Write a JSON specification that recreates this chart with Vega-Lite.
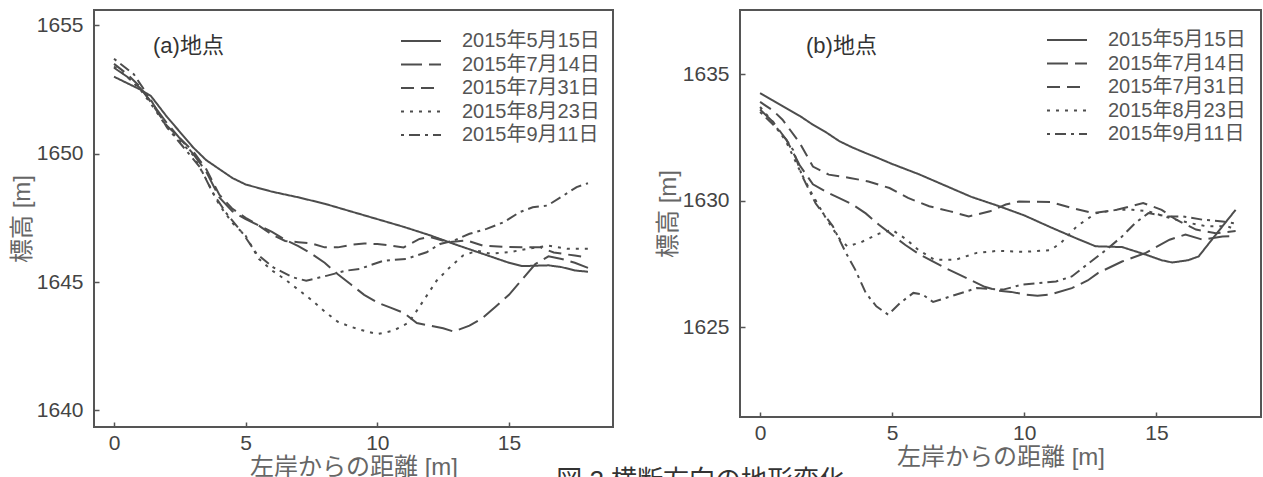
{
  "$schema": "https://vega.github.io/schema/vega-lite/v6.json",
  "padding": {"left": 9, "top": 9, "right": 0, "bottom": 0},
  "background": "white",
  "title": {"text": "図 2 横断方向の地形変化", "orient": "bottom", "anchor": "middle", "offset": -12, "dx": 65, "baseline": "top", "fontSize": 26, "fontWeight": "normal", "color": "#333"},
  "datasets": {
    "a": [
      {"date": "2015年5月15日", "d": 0, "h": 1653.0}, {"date": "2015年5月15日", "d": 0.5, "h": 1652.75}, {"date": "2015年5月15日", "d": 1, "h": 1652.5}, {"date": "2015年5月15日", "d": 1.4, "h": 1652.25}, {"date": "2015年5月15日", "d": 2, "h": 1651.45}, {"date": "2015年5月15日", "d": 2.5, "h": 1650.85}, {"date": "2015年5月15日", "d": 3, "h": 1650.25}, {"date": "2015年5月15日", "d": 3.5, "h": 1649.75}, {"date": "2015年5月15日", "d": 4, "h": 1649.4}, {"date": "2015年5月15日", "d": 4.5, "h": 1649.05}, {"date": "2015年5月15日", "d": 5, "h": 1648.8}, {"date": "2015年5月15日", "d": 6, "h": 1648.52}, {"date": "2015年5月15日", "d": 7, "h": 1648.3}, {"date": "2015年5月15日", "d": 8, "h": 1648.05}, {"date": "2015年5月15日", "d": 9, "h": 1647.75}, {"date": "2015年5月15日", "d": 10, "h": 1647.45}, {"date": "2015年5月15日", "d": 11, "h": 1647.15}, {"date": "2015年5月15日", "d": 12, "h": 1646.82}, {"date": "2015年5月15日", "d": 13, "h": 1646.45}, {"date": "2015年5月15日", "d": 14, "h": 1646.1}, {"date": "2015年5月15日", "d": 15, "h": 1645.75}, {"date": "2015年5月15日", "d": 15.5, "h": 1645.62}, {"date": "2015年5月15日", "d": 16.5, "h": 1645.65}, {"date": "2015年5月15日", "d": 17, "h": 1645.58}, {"date": "2015年5月15日", "d": 17.5, "h": 1645.45}, {"date": "2015年5月15日", "d": 18, "h": 1645.4},
      {"date": "2015年7月14日", "d": 0, "h": 1653.35}, {"date": "2015年7月14日", "d": 0.5, "h": 1653.0}, {"date": "2015年7月14日", "d": 1, "h": 1652.55}, {"date": "2015年7月14日", "d": 1.5, "h": 1651.9}, {"date": "2015年7月14日", "d": 2, "h": 1651.2}, {"date": "2015年7月14日", "d": 2.5, "h": 1650.6}, {"date": "2015年7月14日", "d": 3, "h": 1650.0}, {"date": "2015年7月14日", "d": 3.5, "h": 1649.3}, {"date": "2015年7月14日", "d": 4, "h": 1648.3}, {"date": "2015年7月14日", "d": 4.5, "h": 1647.75}, {"date": "2015年7月14日", "d": 5, "h": 1647.45}, {"date": "2015年7月14日", "d": 5.5, "h": 1647.2}, {"date": "2015年7月14日", "d": 6, "h": 1646.95}, {"date": "2015年7月14日", "d": 6.5, "h": 1646.65}, {"date": "2015年7月14日", "d": 7, "h": 1646.4}, {"date": "2015年7月14日", "d": 7.5, "h": 1646.1}, {"date": "2015年7月14日", "d": 8, "h": 1645.75}, {"date": "2015年7月14日", "d": 8.5, "h": 1645.3}, {"date": "2015年7月14日", "d": 9, "h": 1644.9}, {"date": "2015年7月14日", "d": 9.5, "h": 1644.5}, {"date": "2015年7月14日", "d": 10, "h": 1644.2}, {"date": "2015年7月14日", "d": 10.5, "h": 1644.0}, {"date": "2015年7月14日", "d": 11, "h": 1643.8}, {"date": "2015年7月14日", "d": 11.5, "h": 1643.4}, {"date": "2015年7月14日", "d": 12, "h": 1643.3}, {"date": "2015年7月14日", "d": 12.5, "h": 1643.2}, {"date": "2015年7月14日", "d": 12.9, "h": 1643.07}, {"date": "2015年7月14日", "d": 13.5, "h": 1643.3}, {"date": "2015年7月14日", "d": 14, "h": 1643.6}, {"date": "2015年7月14日", "d": 14.5, "h": 1644.05}, {"date": "2015年7月14日", "d": 15, "h": 1644.5}, {"date": "2015年7月14日", "d": 15.5, "h": 1645.1}, {"date": "2015年7月14日", "d": 16, "h": 1645.7}, {"date": "2015年7月14日", "d": 16.5, "h": 1646.0}, {"date": "2015年7月14日", "d": 17, "h": 1645.9}, {"date": "2015年7月14日", "d": 17.5, "h": 1645.75}, {"date": "2015年7月14日", "d": 18, "h": 1645.55},
      {"date": "2015年7月31日", "d": 0, "h": 1653.5}, {"date": "2015年7月31日", "d": 0.5, "h": 1653.1}, {"date": "2015年7月31日", "d": 1, "h": 1652.6}, {"date": "2015年7月31日", "d": 1.5, "h": 1651.85}, {"date": "2015年7月31日", "d": 2, "h": 1651.1}, {"date": "2015年7月31日", "d": 2.5, "h": 1650.6}, {"date": "2015年7月31日", "d": 3, "h": 1650.1}, {"date": "2015年7月31日", "d": 3.5, "h": 1649.4}, {"date": "2015年7月31日", "d": 4, "h": 1648.4}, {"date": "2015年7月31日", "d": 4.5, "h": 1647.85}, {"date": "2015年7月31日", "d": 5, "h": 1647.5}, {"date": "2015年7月31日", "d": 5.5, "h": 1647.2}, {"date": "2015年7月31日", "d": 6, "h": 1646.85}, {"date": "2015年7月31日", "d": 6.5, "h": 1646.6}, {"date": "2015年7月31日", "d": 7, "h": 1646.55}, {"date": "2015年7月31日", "d": 7.5, "h": 1646.5}, {"date": "2015年7月31日", "d": 8, "h": 1646.35}, {"date": "2015年7月31日", "d": 8.5, "h": 1646.35}, {"date": "2015年7月31日", "d": 9, "h": 1646.45}, {"date": "2015年7月31日", "d": 9.5, "h": 1646.5}, {"date": "2015年7月31日", "d": 10, "h": 1646.48}, {"date": "2015年7月31日", "d": 10.5, "h": 1646.42}, {"date": "2015年7月31日", "d": 11, "h": 1646.35}, {"date": "2015年7月31日", "d": 11.6, "h": 1646.68}, {"date": "2015年7月31日", "d": 12, "h": 1646.75}, {"date": "2015年7月31日", "d": 12.7, "h": 1646.55}, {"date": "2015年7月31日", "d": 13.4, "h": 1646.62}, {"date": "2015年7月31日", "d": 14, "h": 1646.42}, {"date": "2015年7月31日", "d": 15, "h": 1646.36}, {"date": "2015年7月31日", "d": 16.2, "h": 1646.35}, {"date": "2015年7月31日", "d": 16.7, "h": 1646.15}, {"date": "2015年7月31日", "d": 17.5, "h": 1646.03}, {"date": "2015年7月31日", "d": 18, "h": 1645.96},
      {"date": "2015年8月23日", "d": 0, "h": 1653.4}, {"date": "2015年8月23日", "d": 0.5, "h": 1653.0}, {"date": "2015年8月23日", "d": 1, "h": 1652.5}, {"date": "2015年8月23日", "d": 1.5, "h": 1651.8}, {"date": "2015年8月23日", "d": 2, "h": 1651.05}, {"date": "2015年8月23日", "d": 2.5, "h": 1650.5}, {"date": "2015年8月23日", "d": 3, "h": 1649.95}, {"date": "2015年8月23日", "d": 3.5, "h": 1649.0}, {"date": "2015年8月23日", "d": 4, "h": 1648.0}, {"date": "2015年8月23日", "d": 4.5, "h": 1647.3}, {"date": "2015年8月23日", "d": 5, "h": 1646.8}, {"date": "2015年8月23日", "d": 5.5, "h": 1645.9}, {"date": "2015年8月23日", "d": 6, "h": 1645.45}, {"date": "2015年8月23日", "d": 6.5, "h": 1645.1}, {"date": "2015年8月23日", "d": 7, "h": 1644.7}, {"date": "2015年8月23日", "d": 7.5, "h": 1644.3}, {"date": "2015年8月23日", "d": 8, "h": 1643.85}, {"date": "2015年8月23日", "d": 8.5, "h": 1643.45}, {"date": "2015年8月23日", "d": 9, "h": 1643.25}, {"date": "2015年8月23日", "d": 9.5, "h": 1643.1}, {"date": "2015年8月23日", "d": 10, "h": 1642.97}, {"date": "2015年8月23日", "d": 10.6, "h": 1643.1}, {"date": "2015年8月23日", "d": 11.2, "h": 1643.42}, {"date": "2015年8月23日", "d": 11.75, "h": 1644.27}, {"date": "2015年8月23日", "d": 12.25, "h": 1645.05}, {"date": "2015年8月23日", "d": 12.75, "h": 1645.57}, {"date": "2015年8月23日", "d": 13.25, "h": 1646.03}, {"date": "2015年8月23日", "d": 13.8, "h": 1646.22}, {"date": "2015年8月23日", "d": 14.3, "h": 1646.1}, {"date": "2015年8月23日", "d": 15, "h": 1646.16}, {"date": "2015年8月23日", "d": 15.7, "h": 1646.29}, {"date": "2015年8月23日", "d": 16.5, "h": 1646.42}, {"date": "2015年8月23日", "d": 17.2, "h": 1646.3}, {"date": "2015年8月23日", "d": 18, "h": 1646.3},
      {"date": "2015年9月11日", "d": 0, "h": 1653.7}, {"date": "2015年9月11日", "d": 0.75, "h": 1653.1}, {"date": "2015年9月11日", "d": 1.4, "h": 1652.1}, {"date": "2015年9月11日", "d": 2, "h": 1651.04}, {"date": "2015年9月11日", "d": 2.6, "h": 1650.3}, {"date": "2015年9月11日", "d": 3.26, "h": 1649.48}, {"date": "2015年9月11日", "d": 3.77, "h": 1648.44}, {"date": "2015年9月11日", "d": 4.28, "h": 1647.66}, {"date": "2015年9月11日", "d": 4.9, "h": 1646.88}, {"date": "2015年9月11日", "d": 5.42, "h": 1646.1}, {"date": "2015年9月11日", "d": 6.05, "h": 1645.57}, {"date": "2015年9月11日", "d": 6.8, "h": 1645.18}, {"date": "2015年9月11日", "d": 7.3, "h": 1645.05}, {"date": "2015年9月11日", "d": 8.1, "h": 1645.25}, {"date": "2015年9月11日", "d": 8.8, "h": 1645.44}, {"date": "2015年9月11日", "d": 9.33, "h": 1645.51}, {"date": "2015年9月11日", "d": 10.23, "h": 1645.83}, {"date": "2015年9月11日", "d": 11.1, "h": 1645.9}, {"date": "2015年9月11日", "d": 11.87, "h": 1646.16}, {"date": "2015年9月11日", "d": 12.38, "h": 1646.48}, {"date": "2015年9月11日", "d": 12.9, "h": 1646.61}, {"date": "2015年9月11日", "d": 13.5, "h": 1646.88}, {"date": "2015年9月11日", "d": 14.15, "h": 1647.07}, {"date": "2015年9月11日", "d": 14.8, "h": 1647.33}, {"date": "2015年9月11日", "d": 15.4, "h": 1647.72}, {"date": "2015年9月11日", "d": 15.9, "h": 1647.91}, {"date": "2015年9月11日", "d": 16.46, "h": 1647.98}, {"date": "2015年9月11日", "d": 16.96, "h": 1648.3}, {"date": "2015年9月11日", "d": 17.57, "h": 1648.7}, {"date": "2015年9月11日", "d": 18, "h": 1648.85}
    ],
    "b": [
      {"date": "2015年5月15日", "d": 0, "h": 1634.25}, {"date": "2015年5月15日", "d": 0.5, "h": 1633.95}, {"date": "2015年5月15日", "d": 1, "h": 1633.65}, {"date": "2015年5月15日", "d": 1.5, "h": 1633.35}, {"date": "2015年5月15日", "d": 2, "h": 1633.0}, {"date": "2015年5月15日", "d": 2.5, "h": 1632.7}, {"date": "2015年5月15日", "d": 3, "h": 1632.35}, {"date": "2015年5月15日", "d": 3.5, "h": 1632.1}, {"date": "2015年5月15日", "d": 4, "h": 1631.88}, {"date": "2015年5月15日", "d": 4.5, "h": 1631.67}, {"date": "2015年5月15日", "d": 5, "h": 1631.45}, {"date": "2015年5月15日", "d": 6, "h": 1631.05}, {"date": "2015年5月15日", "d": 7, "h": 1630.6}, {"date": "2015年5月15日", "d": 8, "h": 1630.15}, {"date": "2015年5月15日", "d": 9, "h": 1629.8}, {"date": "2015年5月15日", "d": 10, "h": 1629.42}, {"date": "2015年5月15日", "d": 11, "h": 1628.95}, {"date": "2015年5月15日", "d": 12, "h": 1628.5}, {"date": "2015年5月15日", "d": 12.7, "h": 1628.2}, {"date": "2015年5月15日", "d": 13.7, "h": 1628.17}, {"date": "2015年5月15日", "d": 14.6, "h": 1627.87}, {"date": "2015年5月15日", "d": 15.2, "h": 1627.65}, {"date": "2015年5月15日", "d": 15.6, "h": 1627.56}, {"date": "2015年5月15日", "d": 16.2, "h": 1627.65}, {"date": "2015年5月15日", "d": 16.6, "h": 1627.8}, {"date": "2015年5月15日", "d": 17, "h": 1628.33}, {"date": "2015年5月15日", "d": 17.5, "h": 1628.99}, {"date": "2015年5月15日", "d": 18, "h": 1629.64},
      {"date": "2015年7月14日", "d": 0, "h": 1633.6}, {"date": "2015年7月14日", "d": 0.5, "h": 1633.1}, {"date": "2015年7月14日", "d": 1, "h": 1632.4}, {"date": "2015年7月14日", "d": 1.5, "h": 1631.4}, {"date": "2015年7月14日", "d": 2, "h": 1630.65}, {"date": "2015年7月14日", "d": 2.5, "h": 1630.35}, {"date": "2015年7月14日", "d": 3, "h": 1630.1}, {"date": "2015年7月14日", "d": 3.5, "h": 1629.85}, {"date": "2015年7月14日", "d": 4, "h": 1629.5}, {"date": "2015年7月14日", "d": 4.5, "h": 1629.05}, {"date": "2015年7月14日", "d": 5, "h": 1628.65}, {"date": "2015年7月14日", "d": 5.5, "h": 1628.25}, {"date": "2015年7月14日", "d": 6, "h": 1627.9}, {"date": "2015年7月14日", "d": 6.5, "h": 1627.62}, {"date": "2015年7月14日", "d": 7, "h": 1627.35}, {"date": "2015年7月14日", "d": 7.5, "h": 1627.1}, {"date": "2015年7月14日", "d": 8, "h": 1626.85}, {"date": "2015年7月14日", "d": 8.5, "h": 1626.6}, {"date": "2015年7月14日", "d": 9, "h": 1626.45}, {"date": "2015年7月14日", "d": 9.5, "h": 1626.4}, {"date": "2015年7月14日", "d": 10, "h": 1626.3}, {"date": "2015年7月14日", "d": 10.5, "h": 1626.25}, {"date": "2015年7月14日", "d": 11, "h": 1626.3}, {"date": "2015年7月14日", "d": 11.8, "h": 1626.55}, {"date": "2015年7月14日", "d": 12.4, "h": 1626.85}, {"date": "2015年7月14日", "d": 12.8, "h": 1627.15}, {"date": "2015年7月14日", "d": 13.7, "h": 1627.6}, {"date": "2015年7月14日", "d": 14.6, "h": 1627.94}, {"date": "2015年7月14日", "d": 15.5, "h": 1628.46}, {"date": "2015年7月14日", "d": 16.1, "h": 1628.66}, {"date": "2015年7月14日", "d": 16.75, "h": 1628.46}, {"date": "2015年7月14日", "d": 17.5, "h": 1628.59}, {"date": "2015年7月14日", "d": 18, "h": 1628.6},
      {"date": "2015年7月31日", "d": 0, "h": 1633.9}, {"date": "2015年7月31日", "d": 0.5, "h": 1633.55}, {"date": "2015年7月31日", "d": 0.85, "h": 1633.2}, {"date": "2015年7月31日", "d": 1.5, "h": 1632.28}, {"date": "2015年7月31日", "d": 2, "h": 1631.35}, {"date": "2015年7月31日", "d": 2.6, "h": 1631.03}, {"date": "2015年7月31日", "d": 3.4, "h": 1630.9}, {"date": "2015年7月31日", "d": 4.1, "h": 1630.76}, {"date": "2015年7月31日", "d": 4.9, "h": 1630.5}, {"date": "2015年7月31日", "d": 5.6, "h": 1630.11}, {"date": "2015年7月31日", "d": 6.4, "h": 1629.78}, {"date": "2015年7月31日", "d": 7.2, "h": 1629.58}, {"date": "2015年7月31日", "d": 7.9, "h": 1629.38}, {"date": "2015年7月31日", "d": 8.7, "h": 1629.58}, {"date": "2015年7月31日", "d": 9.3, "h": 1629.85}, {"date": "2015年7月31日", "d": 9.8, "h": 1629.97}, {"date": "2015年7月31日", "d": 11, "h": 1629.95}, {"date": "2015年7月31日", "d": 11.8, "h": 1629.71}, {"date": "2015年7月31日", "d": 12.6, "h": 1629.51}, {"date": "2015年7月31日", "d": 13.5, "h": 1629.64}, {"date": "2015年7月31日", "d": 14.5, "h": 1629.91}, {"date": "2015年7月31日", "d": 15.2, "h": 1629.64}, {"date": "2015年7月31日", "d": 15.75, "h": 1629.25}, {"date": "2015年7月31日", "d": 16.5, "h": 1628.86}, {"date": "2015年7月31日", "d": 17.25, "h": 1628.72}, {"date": "2015年7月31日", "d": 18, "h": 1628.8},
      {"date": "2015年8月23日", "d": 0, "h": 1633.7}, {"date": "2015年8月23日", "d": 0.5, "h": 1633.1}, {"date": "2015年8月23日", "d": 1, "h": 1632.3}, {"date": "2015年8月23日", "d": 1.5, "h": 1631.2}, {"date": "2015年8月23日", "d": 2, "h": 1630.2}, {"date": "2015年8月23日", "d": 2.5, "h": 1629.3}, {"date": "2015年8月23日", "d": 3, "h": 1628.5}, {"date": "2015年8月23日", "d": 3.3, "h": 1628.2}, {"date": "2015年8月23日", "d": 3.8, "h": 1628.35}, {"date": "2015年8月23日", "d": 4.5, "h": 1628.7}, {"date": "2015年8月23日", "d": 5, "h": 1628.85}, {"date": "2015年8月23日", "d": 5.5, "h": 1628.5}, {"date": "2015年8月23日", "d": 6, "h": 1628.05}, {"date": "2015年8月23日", "d": 6.6, "h": 1627.67}, {"date": "2015年8月23日", "d": 7.4, "h": 1627.67}, {"date": "2015年8月23日", "d": 8.2, "h": 1627.94}, {"date": "2015年8月23日", "d": 9, "h": 1628.02}, {"date": "2015年8月23日", "d": 10, "h": 1627.98}, {"date": "2015年8月23日", "d": 11, "h": 1628.05}, {"date": "2015年8月23日", "d": 11.4, "h": 1628.35}, {"date": "2015年8月23日", "d": 12, "h": 1629.0}, {"date": "2015年8月23日", "d": 12.7, "h": 1629.5}, {"date": "2015年8月23日", "d": 13.5, "h": 1629.64}, {"date": "2015年8月23日", "d": 14.1, "h": 1629.64}, {"date": "2015年8月23日", "d": 14.7, "h": 1629.58}, {"date": "2015年8月23日", "d": 15.5, "h": 1629.32}, {"date": "2015年8月23日", "d": 16.25, "h": 1629.12}, {"date": "2015年8月23日", "d": 16.9, "h": 1628.99}, {"date": "2015年8月23日", "d": 17.7, "h": 1628.99}, {"date": "2015年8月23日", "d": 18, "h": 1628.85},
      {"date": "2015年9月11日", "d": 0, "h": 1633.5}, {"date": "2015年9月11日", "d": 0.5, "h": 1633.0}, {"date": "2015年9月11日", "d": 1, "h": 1632.4}, {"date": "2015年9月11日", "d": 1.25, "h": 1632.0}, {"date": "2015年9月11日", "d": 1.6, "h": 1630.96}, {"date": "2015年9月11日", "d": 2.1, "h": 1629.9}, {"date": "2015年9月11日", "d": 2.75, "h": 1629.0}, {"date": "2015年9月11日", "d": 3.25, "h": 1627.94}, {"date": "2015年9月11日", "d": 3.6, "h": 1627.28}, {"date": "2015年9月11日", "d": 4, "h": 1626.36}, {"date": "2015年9月11日", "d": 4.4, "h": 1625.83}, {"date": "2015年9月11日", "d": 4.85, "h": 1625.5}, {"date": "2015年9月11日", "d": 5.3, "h": 1625.96}, {"date": "2015年9月11日", "d": 5.8, "h": 1626.36}, {"date": "2015年9月11日", "d": 6.15, "h": 1626.3}, {"date": "2015年9月11日", "d": 6.55, "h": 1626.0}, {"date": "2015年9月11日", "d": 7.2, "h": 1626.22}, {"date": "2015年9月11日", "d": 8.2, "h": 1626.55}, {"date": "2015年9月11日", "d": 9.2, "h": 1626.49}, {"date": "2015年9月11日", "d": 9.9, "h": 1626.68}, {"date": "2015年9月11日", "d": 11.2, "h": 1626.81}, {"date": "2015年9月11日", "d": 11.8, "h": 1627.01}, {"date": "2015年9月11日", "d": 12.45, "h": 1627.54}, {"date": "2015年9月11日", "d": 13.1, "h": 1628.06}, {"date": "2015年9月11日", "d": 13.7, "h": 1628.59}, {"date": "2015年9月11日", "d": 14.2, "h": 1629.12}, {"date": "2015年9月11日", "d": 14.7, "h": 1629.51}, {"date": "2015年9月11日", "d": 15.4, "h": 1629.38}, {"date": "2015年9月11日", "d": 16, "h": 1629.38}, {"date": "2015年9月11日", "d": 16.75, "h": 1629.25}, {"date": "2015年9月11日", "d": 17.5, "h": 1629.18}, {"date": "2015年9月11日", "d": 18, "h": 1629.1}
    ]
  },
  "spacing": 41,
  "resolve": {"scale": {"x": "independent", "y": "independent", "strokeDash": "independent"}, "legend": {"strokeDash": "independent"}, "axis": {"x": "independent", "y": "independent"}},
  "hconcat": [
    {
      "width": 519,
      "height": 417,
      "data": {"name": "a"},
      "title": {"text": "(a)地点", "anchor": "start", "frame": "group", "orient": "top", "offset": -37, "dx": 59, "dy": 21, "baseline": "middle", "fontSize": 22, "fontWeight": "normal", "color": "#333"},
      "mark": {"type": "line", "color": "#4d4d4d", "strokeWidth": 2, "clip": true},
      "encoding": {
        "x": {"field": "d", "type": "quantitative", "scale": {"domain": [-0.76, 18.95], "nice": false, "zero": false}, "axis": {"values": [0, 5, 10, 15], "format": "d", "title": "左岸からの距離 [m]"}},
        "y": {"field": "h", "type": "quantitative", "scale": {"domain": [1639.35, 1655.6], "nice": false, "zero": false}, "axis": {"values": [1640, 1645, 1650, 1655], "format": "d", "title": "標高 [m]"}},
        "strokeDash": {"field": "date", "type": "nominal", "scale": {"domain": ["2015年5月15日", "2015年7月14日", "2015年7月31日", "2015年8月23日", "2015年9月11日"], "range": [[1, 0], [21, 7], [13, 7], [3, 6], [3, 5, 11, 5]]}, "legend": {"orient": "none", "legendX": 306, "legendY": 21}}
      }
    },
    {
      "width": 521,
      "height": 407,
      "data": {"name": "b"},
      "title": {"text": "(b)地点", "anchor": "start", "frame": "group", "orient": "top", "offset": -37, "dx": 66, "dy": 21, "baseline": "middle", "fontSize": 22, "fontWeight": "normal", "color": "#333"},
      "mark": {"type": "line", "color": "#4d4d4d", "strokeWidth": 2, "clip": true},
      "encoding": {
        "x": {"field": "d", "type": "quantitative", "scale": {"domain": [-0.76, 18.96], "nice": false, "zero": false}, "axis": {"values": [0, 5, 10, 15], "format": "d", "title": "左岸からの距離 [m]"}},
        "y": {"field": "h", "type": "quantitative", "scale": {"domain": [1621.46, 1637.53], "nice": false, "zero": false}, "axis": {"values": [1625, 1630, 1635], "format": "d", "title": "標高 [m]"}},
        "strokeDash": {"field": "date", "type": "nominal", "scale": {"domain": ["2015年5月15日", "2015年7月14日", "2015年7月31日", "2015年8月23日", "2015年9月11日"], "range": [[1, 0], [21, 7], [13, 7], [3, 6], [3, 5, 11, 5]]}, "legend": {"orient": "none", "legendX": 306, "legendY": 20}}
      }
    }
  ],
  "config": {
    "font": "Liberation Sans, Noto Sans CJK JP, sans-serif",
    "view": {"stroke": "#555", "strokeWidth": 2},
    "axis": {"domain": false, "grid": false, "ticks": true, "tickColor": "#555", "tickSize": -5, "tickWidth": 1.5, "labelFontSize": 21, "labelColor": "#444", "titleFontSize": 24, "titleColor": "#666", "titleFontWeight": "normal"},
    "axisY": {"labelPadding": 16, "titlePadding": 2},
    "axisX": {"labelPadding": 10, "titlePadding": 2},
    "legend": {"title": null, "symbolType": "stroke", "symbolSize": 1600, "symbolStrokeWidth": 2, "symbolStrokeColor": "#4d4d4d", "labelFontSize": 20, "labelColor": "#555", "labelOffset": 20, "clipHeight": 20, "rowPadding": 3.5, "padding": 0}
  }
}
